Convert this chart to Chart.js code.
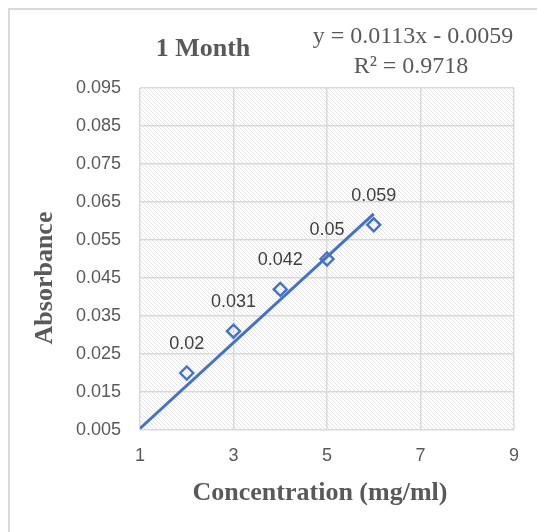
<!DOCTYPE html>
<html>
<head>
<meta charset="utf-8">
<script src="https://cdn.jsdelivr.net/npm/chart.js@4/dist/chart.umd.min.js"></script>
<style>
  html, body { margin: 0; padding: 0; background: #fff; }
  #wrap { width: 537px; height: 532px; position: relative; }
</style>
</head>
<body>
<div id="wrap"><canvas id="chart" width="537" height="532"></canvas></div>
<script>
// data
const concentration = [2, 3, 4, 5, 6];
const absorbance = [0.02, 0.031, 0.042, 0.05, 0.059];
const trendX = [1, 6];
const slope = 0.0113;
const intercept = -0.0059;
const rSquared = 0.9718;
const xTicks = [1, 3, 5, 7, 9];
const yTicks = [0.005, 0.015, 0.025, 0.035, 0.045, 0.055, 0.065, 0.075, 0.085, 0.095];

const titleText = '1 Month';
const eqText = 'y = 0.0113x - 0.0059';
const r2Text = 'R² = ' + rSquared;
const xTitle = 'Concentration (mg/ml)';
const yTitle = 'Absorbance';

const blue = '#4472c4';
const gray = '#595959';

// hatched plot background
function makeHatch() {
  const c = document.createElement('canvas');
  c.width = 4; c.height = 4;
  const g = c.getContext('2d');
  g.fillStyle = '#fff';
  g.fillRect(0, 0, 4, 4);
  g.strokeStyle = '#dedede';
  g.lineWidth = 0.8;
  g.beginPath();
  g.moveTo(-1, -1); g.lineTo(5, 5);
  g.moveTo(-1, 3); g.lineTo(1, 5);
  g.moveTo(3, -1); g.lineTo(5, 1);
  g.stroke();
  return g.createPattern(c, 'repeat');
}

const decorPlugin = {
  id: 'decor',
  beforeDraw(chart) {
    const ctx = chart.ctx;
    const a = chart.chartArea;
    ctx.save();
    // outer frame (top and left only)
    ctx.strokeStyle = '#d9d9d9';
    ctx.lineWidth = 2;
    ctx.beginPath();
    ctx.moveTo(537, 9); ctx.lineTo(9, 9); ctx.lineTo(9, 532);
    ctx.stroke();
    ctx.fillStyle = makeHatch();
    ctx.fillRect(a.left, a.top, a.right - a.left, a.bottom - a.top);
    ctx.restore();
  },
  afterDraw(chart) {
    const ctx = chart.ctx;
    ctx.save();
    ctx.fillStyle = gray;
    ctx.textAlign = 'center';
    ctx.textBaseline = 'middle';
    ctx.font = 'bold 26px "Liberation Serif"';
    ctx.fillText(titleText, 203, 49);
    // axis titles
    ctx.fillText(xTitle, 320, 493);
    ctx.save();
    ctx.translate(45, 278);
    ctx.rotate(-Math.PI / 2);
    ctx.fillText(yTitle, 0, 0);
    ctx.restore();
    ctx.font = '24px "Liberation Serif"';
    ctx.fillText(eqText, 413, 37);
    ctx.fillText(r2Text, 411, 67);
    // data labels
    const meta = chart.getDatasetMeta(0);
    ctx.fillStyle = '#404040';
    ctx.font = '18px "Liberation Sans"';
    meta.data.forEach((pt, i) => {
      ctx.fillText(String(absorbance[i]), pt.x, pt.y - 29);
    });
    ctx.restore();
  }
};

new Chart(document.getElementById('chart'), {
  type: 'scatter',
  data: {
    datasets: [
      {
        label: 'Absorbance',
        data: concentration.map((x, i) => ({ x: x, y: absorbance[i] })),
        showLine: false,
        pointStyle: 'rectRot',
        pointRadius: 6.5,
        pointBorderWidth: 2.4,
        pointBackgroundColor: 'rgba(255,255,255,0)',
        pointBorderColor: blue,
        order: 1
      },
      {
        label: 'Linear',
        data: trendX.map(x => ({ x: x, y: slope * x + intercept })),
        showLine: true,
        borderColor: blue,
        borderWidth: 3,
        pointRadius: 0,
        order: 2
      }
    ]
  },
  options: {
    responsive: false,
    animation: false,
    layout: { padding: { left: 0, right: 23, top: 88, bottom: 0 } },
    plugins: {
      legend: { display: false },
      tooltip: { enabled: false }
    },
    scales: {
      x: {
        type: 'linear',
        min: 1,
        max: 9,
        afterBuildTicks: s => { s.ticks = xTicks.map(v => ({ value: v })); },
        afterFit: s => { s.height = 102; },
        grid: { color: '#d9d9d9', lineWidth: 1.5, drawTicks: false },
        border: { display: false },
        ticks: { color: gray, font: { family: 'Liberation Sans', size: 18 }, padding: 15 }
      },
      y: {
        type: 'linear',
        min: 0.005,
        max: 0.095,
        afterBuildTicks: s => { s.ticks = yTicks.map(v => ({ value: v })); },
        afterFit: s => { s.width = 140; },
        grid: { color: '#d9d9d9', lineWidth: 1.5, drawTicks: false },
        border: { display: false },
        ticks: {
          color: gray,
          font: { family: 'Liberation Sans', size: 18 },
          padding: 19,
          callback: v => v.toFixed(3)
        }
      }
    }
  },
  plugins: [decorPlugin]
});
</script>
</body>
</html>
